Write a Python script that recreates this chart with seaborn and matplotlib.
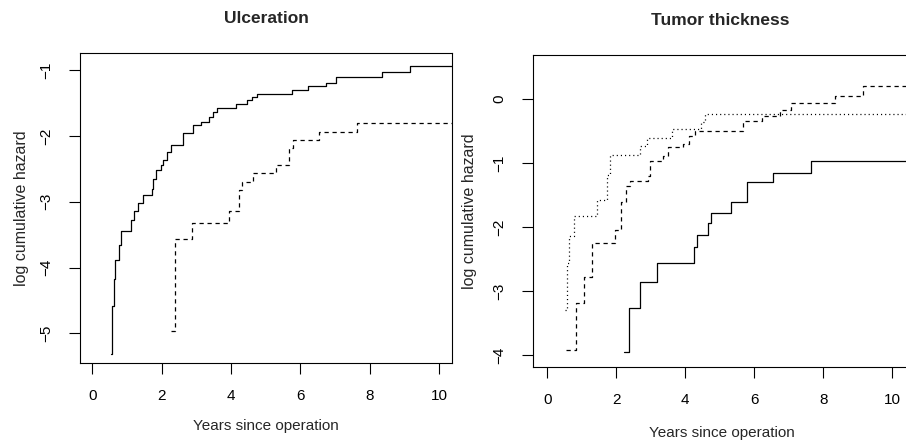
import matplotlib
matplotlib.use("Agg")
import matplotlib.pyplot as plt
import seaborn as sns

# step curves: time of each jump and log cumulative hazard after the jump
ulc_present_t = [0.54, 0.58, 0.62, 0.67, 0.78, 0.82, 1.11, 1.20, 1.33, 1.47, 1.73, 1.76,
                 1.83, 1.98, 2.05, 2.17, 2.27, 2.62, 2.91, 3.15, 3.37, 3.49, 3.60, 4.14,
                 4.45, 4.60, 4.74, 5.77, 6.21, 6.75, 7.02, 8.34, 9.16, 10.6]
ulc_present_h = [-5.31, -4.59, -4.18, -3.89, -3.65, -3.45, -3.28, -3.14, -3.02, -2.90, -2.80, -2.65,
                 -2.52, -2.44, -2.37, -2.24, -2.14, -1.96, -1.83, -1.79, -1.71, -1.63, -1.58, -1.51,
                 -1.46, -1.41, -1.37, -1.30, -1.24, -1.19, -1.10, -1.03, -0.93, -0.93]

ulc_absent_t = [2.27, 2.38, 2.89, 3.95, 4.24, 4.33, 4.64, 5.29, 5.68, 5.78, 6.54, 7.62, 10.6]
ulc_absent_h = [-4.96, -3.57, -3.33, -3.14, -2.82, -2.70, -2.57, -2.44, -2.19, -2.06, -1.94, -1.81, -1.81]

thick_low_t = [2.23, 2.37, 2.69, 3.17, 4.25, 4.35, 4.65, 4.74, 5.32, 5.78, 6.53, 7.64, 10.6]
thick_low_h = [-3.95, -3.26, -2.86, -2.56, -2.31, -2.12, -1.93, -1.78, -1.61, -1.30, -1.155, -0.97, -0.97]

thick_mid_t = [0.54, 0.83, 1.07, 1.29, 1.96, 2.13, 2.28, 2.39, 2.92, 2.99, 3.36, 3.50, 3.94,
               4.10, 4.28, 5.66, 6.21, 6.74, 7.05, 8.34, 9.16, 10.6]
thick_mid_h = [-3.91, -3.18, -2.77, -2.25, -2.04, -1.61, -1.36, -1.28, -1.20, -0.96, -0.88, -0.75, -0.70,
               -0.58, -0.50, -0.34, -0.26, -0.17, -0.06, 0.05, 0.20, 0.20]

thick_high_t = [0.51, 0.58, 0.63, 0.78, 1.45, 1.74, 1.82, 2.69, 2.88, 3.61, 4.45, 4.57, 10.6]
thick_high_h = [-3.29, -2.56, -2.14, -1.82, -1.57, -1.18, -0.87, -0.73, -0.61, -0.47, -0.35, -0.23, -0.23]

x_ticks = [0, 2, 4, 6, 8, 10]
left_yticks = [-5, -4, -3, -2, -1]
right_yticks = [-4, -3, -2, -1, 0]

sns.set_style("white")
plt.rcParams['font.family'] = ['Liberation Sans', 'DejaVu Sans']

LW = 0.9
solid = '-'
dashed = (0, (3.4, 3.0))
dotted = (0, (0.9, 2.4))

fig = plt.figure(figsize=(9.06, 4.42), dpi=100)
W, H = 906, 442
ax1 = fig.add_axes([80 / W, 1 - 363 / H, 372 / W, 310 / H])
ax2 = fig.add_axes([533 / W, 1 - 367 / H, 377 / W, 312 / H])


def step(ax, t, h, ls):
    sns.lineplot(x=t, y=h, ax=ax, estimator=None, sort=False, color='black',
                 lw=LW, linestyle=ls, drawstyle='steps-post')


step(ax1, ulc_present_t, ulc_present_h, solid)
step(ax1, ulc_absent_t, ulc_absent_h, dashed)

step(ax2, thick_low_t, thick_low_h, solid)
step(ax2, thick_mid_t, thick_mid_h, dashed)
step(ax2, thick_high_t, thick_high_h, dotted)

ax1.set_xlim(-0.35, 10.37)
ax1.set_ylim(-5.45, -0.74)
ax1.set_yticks(left_yticks)
ax2.set_xlim(-0.41, 10.51)
ax2.set_ylim(-4.18, 0.69)
ax2.set_yticks(right_yticks)

for ax in (ax1, ax2):
    ax.set_xticks(x_ticks)
    ax.tick_params(direction='out', length=8, width=0.8, pad=11, labelsize=11,
                   colors='black', bottom=True, left=True)
    for lab in ax.get_yticklabels():
        lab.set_rotation(90)
        lab.set_va('center')
    for sp in ax.spines.values():
        sp.set_visible(True)
        sp.set_color('black')
        sp.set_linewidth(0.8)
    ax.set_xlabel('Years since operation', fontsize=11)
    ax.set_ylabel('log cumulative hazard', fontsize=11.5)
    ax.grid(False)

ax1.xaxis.set_label_coords(0.5, (363 - 419) / 310)
ax2.xaxis.set_label_coords(0.5, (367 - 426) / 312)
ax1.yaxis.set_label_coords((29 - 80) / 372, 0.5)
ax2.yaxis.set_label_coords((477 - 533) / 377, 0.5)

fig.text(266 / W, 1 - 23 / H, 'Ulceration', ha='center', va='baseline',
         fontsize=12.5, fontweight='bold')
fig.text(720 / W, 1 - 25 / H, 'Tumor thickness', ha='center', va='baseline',
         fontsize=12.5, fontweight='bold')

fig.savefig('out.png', dpi=100)
